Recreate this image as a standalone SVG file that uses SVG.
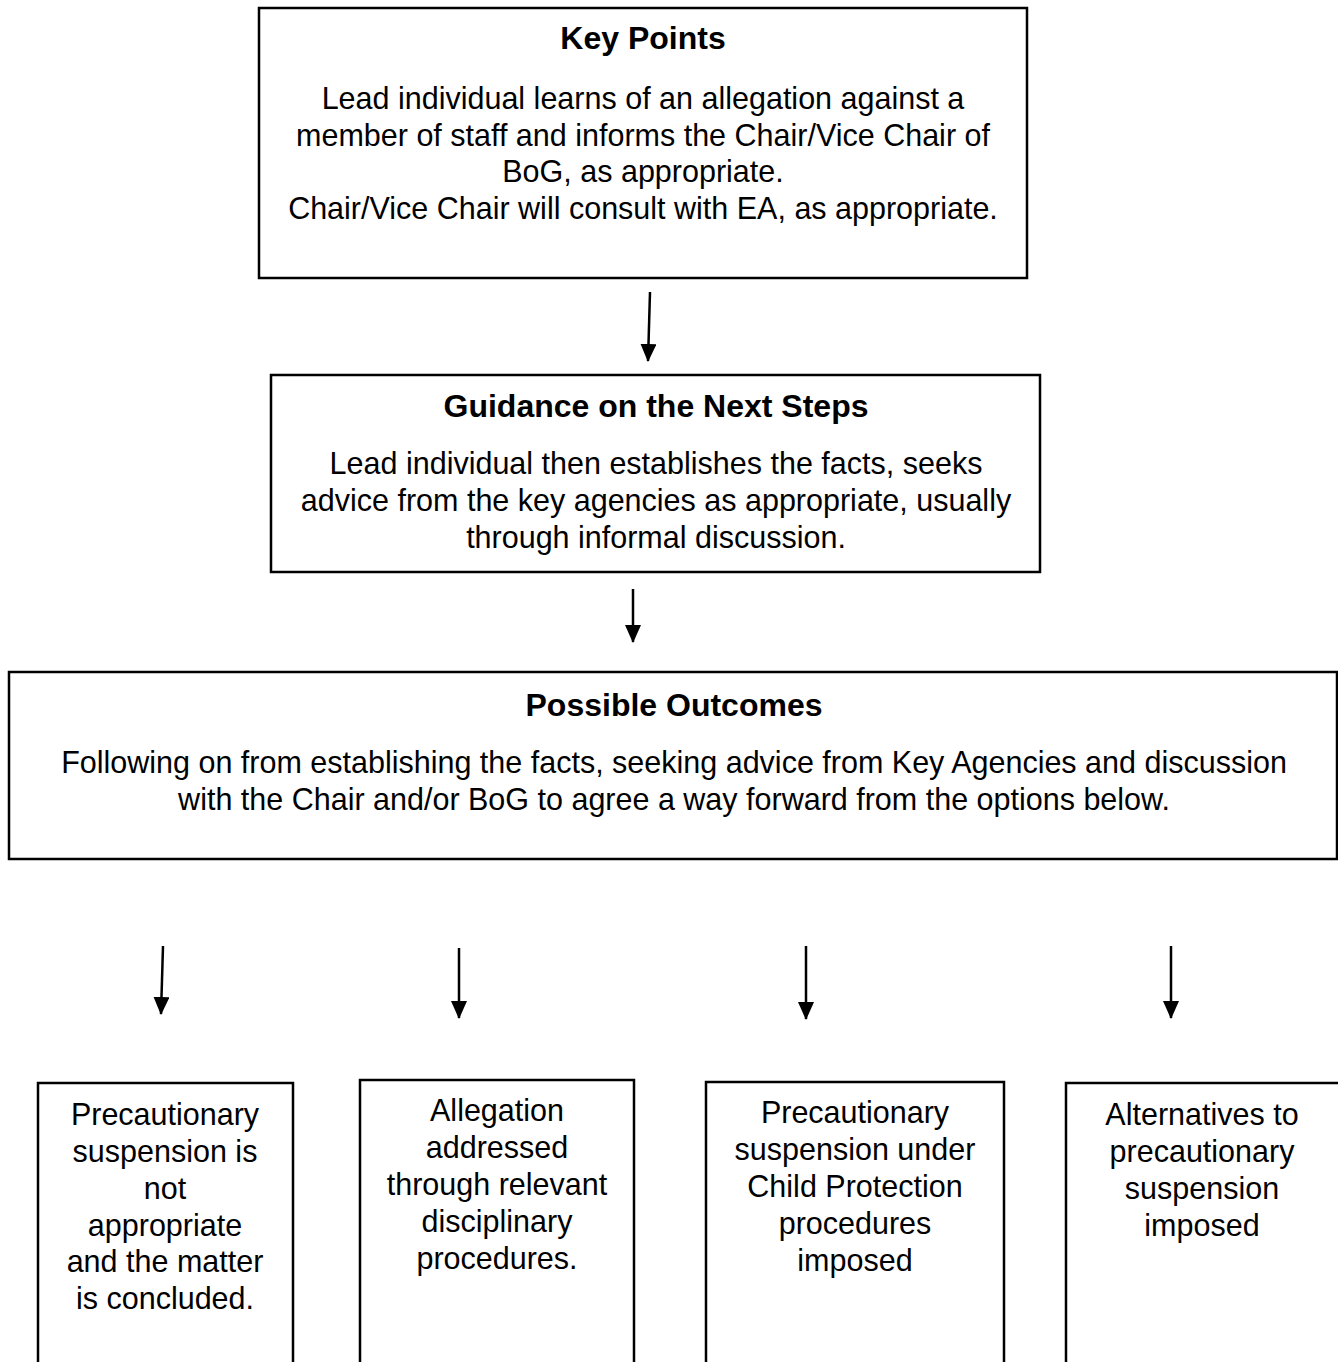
<svg xmlns="http://www.w3.org/2000/svg" width="1338" height="1362" viewBox="0 0 1338 1362">
<style>
.box{fill:#fff;stroke:#000;stroke-width:2.5}
text{font-family:"Liberation Sans",Arial,sans-serif;font-size:30.5px;fill:#000;text-anchor:middle}
.t{font-weight:bold;font-size:32px}
.c{stroke:#000;stroke-width:2.5;fill:none}
</style>
<defs>
<marker id="ah" viewBox="0 0 18 16" refX="17" refY="8" markerWidth="18" markerHeight="16" markerUnits="userSpaceOnUse" orient="auto">
<path d="M0,0 L18,8 L0,16 Z" fill="#000"/>
</marker>
</defs>
<rect width="1338" height="1362" fill="#fff"/>
<g id="key-points">
<rect class="box" x="259" y="8" width="768" height="270"/>
<text class="t" x="643" y="49">Key Points</text>
<text x="643" y="109">Lead individual learns of an allegation against a</text>
<text x="643" y="146">member of staff and informs the Chair/Vice Chair of</text>
<text x="643" y="182">BoG, as appropriate.</text>
<text x="643" y="219">Chair/Vice Chair will consult with EA, as appropriate.</text>
</g>
<g id="guidance">
<rect class="box" x="271" y="375" width="769" height="197"/>
<text class="t" x="656" y="417">Guidance on the Next Steps</text>
<text x="656" y="474">Lead individual then establishes the facts, seeks</text>
<text x="656" y="511">advice from the key agencies as appropriate, usually</text>
<text x="656" y="548">through informal discussion.</text>
</g>
<g id="outcomes">
<rect class="box" x="9" y="672" width="1328" height="187"/>
<text class="t" x="674" y="716">Possible Outcomes</text>
<text x="674" y="773">Following on from establishing the facts, seeking advice from Key Agencies and discussion</text>
<text x="674" y="810">with the Chair and/or BoG to agree a way forward from the options below.</text>
</g>
<g id="not-appropriate">
<rect class="box" x="38" y="1083" width="255" height="290"/>
<text x="165" y="1125">Precautionary</text>
<text x="165" y="1162">suspension is</text>
<text x="165" y="1199">not</text>
<text x="165" y="1236">appropriate</text>
<text x="165" y="1272">and the matter</text>
<text x="165" y="1309">is concluded.</text>
</g>
<g id="disciplinary">
<rect class="box" x="360" y="1080" width="274" height="293"/>
<text x="497" y="1121">Allegation</text>
<text x="497" y="1158">addressed</text>
<text x="497" y="1195">through relevant</text>
<text x="497" y="1232">disciplinary</text>
<text x="497" y="1269">procedures.</text>
</g>
<g id="child-protection">
<rect class="box" x="706" y="1082" width="298" height="291"/>
<text x="855" y="1123">Precautionary</text>
<text x="855" y="1160">suspension under</text>
<text x="855" y="1197">Child Protection</text>
<text x="855" y="1234">procedures</text>
<text x="855" y="1271">imposed</text>
</g>
<g id="alternatives">
<rect class="box" x="1066" y="1083" width="280" height="290"/>
<text x="1202" y="1125">Alternatives to</text>
<text x="1202" y="1162">precautionary</text>
<text x="1202" y="1199">suspension</text>
<text x="1202" y="1236">imposed</text>
</g>
<g id="connectors">
<line class="c" x1="650" y1="292" x2="648" y2="361" marker-end="url(#ah)"/>
<line class="c" x1="633" y1="589" x2="633" y2="642" marker-end="url(#ah)"/>
<line class="c" x1="163" y1="946" x2="161" y2="1014" marker-end="url(#ah)"/>
<line class="c" x1="459" y1="948" x2="459" y2="1018" marker-end="url(#ah)"/>
<line class="c" x1="806" y1="946" x2="806" y2="1019" marker-end="url(#ah)"/>
<line class="c" x1="1171" y1="946" x2="1171" y2="1018" marker-end="url(#ah)"/>
</g>
</svg>
